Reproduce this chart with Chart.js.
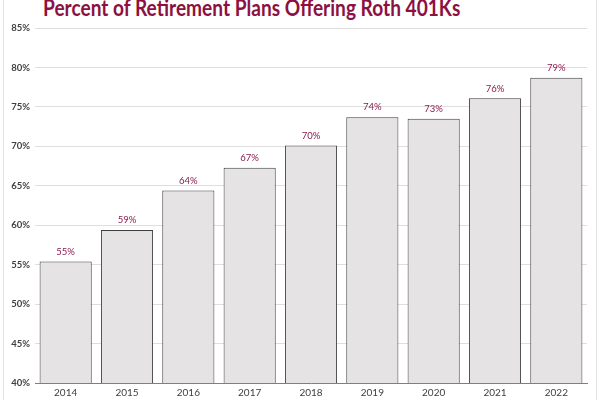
<!DOCTYPE html>
<html lang="en">
  <head>
    <meta charset="UTF-8" />
    <script src="https://cdn.jsdelivr.net/npm/chart.js"></script>
    <title>Roth 401K plans</title>
    <style>
      body {
        margin: 0;
        background-color: #ffffff;
        font-family: "Lato", "Liberation Sans", sans-serif;
      }

      .wrap {
        position: relative;
        width: 600px;
        height: 400px;
        overflow: hidden;
      }

      .frame {
        position: absolute;
        left: 3px;
        top: -2px;
        width: 592px;
        height: 410px;
        border: 1px solid #e3e3e3;
      }

      h1 {
        position: absolute;
        left: 43px;
        top: -6px;
        margin: 0;
        font-size: 22.6px;
        font-weight: 700;
        color: #8c1142;
        white-space: nowrap;
        transform: scaleX(0.846); /* Calibri-like narrow width */
        transform-origin: left top;
      }

      canvas {
        position: absolute;
        left: 0;
        top: 0;
      }
    </style>
  </head>

  <body>
    <div class="wrap">
      <div class="frame"></div>
      <h1>Percent of Retirement Plans Offering Roth 401Ks</h1>
      <canvas id="rothChart" width="600" height="400"></canvas>
    </div>

    <script>
      const years = ["2014", "2015", "2016", "2017", "2018", "2019", "2020", "2021", "2022"];
      const percentOffering = [55.4, 59.4, 64.4, 67.3, 70.1, 73.7, 73.5, 76.1, 78.7];
      const valueLabels = ["55%", "59%", "64%", "67%", "70%", "74%", "73%", "76%", "79%"];

      // draws the maroon labels above each bar
      const barLabels = {
        id: "barLabels",
        afterDatasetsDraw(chart) {
          const ctx = chart.ctx;
          const meta = chart.getDatasetMeta(0);
          ctx.save();
          ctx.font = "9.5px 'Lato', sans-serif";
          ctx.fillStyle = "#8c1a4e";
          ctx.textAlign = "center";
          ctx.textBaseline = "bottom";
          meta.data.forEach((bar, i) => {
            ctx.fillText(valueLabels[i], bar.x, bar.y - 5);
          });
          ctx.restore();
        },
      };

      new Chart(document.getElementById("rothChart").getContext("2d"), {
        type: "bar",
        data: {
          labels: years,
          datasets: [
            {
              data: percentOffering,
              backgroundColor: "#e6e3e4",
              borderColor: "#3f3f3f",
              borderWidth: 1,
              categoryPercentage: 1,
              barPercentage: 0.85,
            },
          ],
        },
        options: {
          responsive: false,
          animation: false,
          layout: { padding: { top: 28, left: 5, right: 13, bottom: 0 } },
          plugins: {
            legend: { display: false },
            tooltip: { enabled: false },
          },
          scales: {
            x: {
              grid: { display: false, drawTicks: false },
              border: { color: "#7f7f7f", width: 1 },
              ticks: {
                color: "#404040",
                font: { family: "Lato", size: 10 },
                padding: 4,
              },
              afterFit: (s) => {
                s.height = 17;
              },
            },
            y: {
              min: 40,
              max: 85,
              border: { display: false },
              grid: { color: "#dedede", drawTicks: false },
              ticks: {
                stepSize: 5,
                color: "#404040",
                font: { family: "Lato", size: 9.5, weight: "bold" },
                padding: 5,
                callback: (v) => v + "%",
              },
              afterFit: (s) => {
                s.width = 30;
              },
            },
          },
        },
        plugins: [barLabels],
      });
    </script>
  </body>
</html>
